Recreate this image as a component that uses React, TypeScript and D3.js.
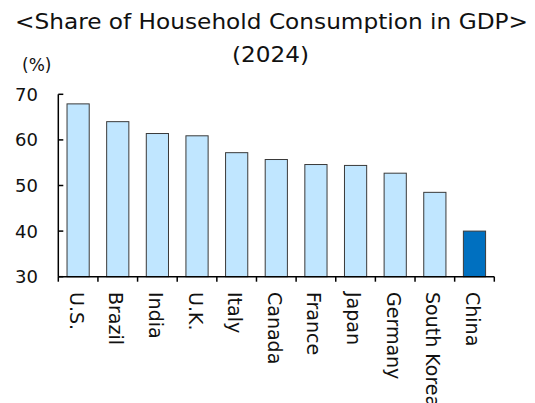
import React from "react";
import * as d3 from "d3";

const categories = ["U.S.", "Brazil", "India", "U.K.", "Italy", "Canada", "France", "Japan", "Germany", "South Korea", "China"];
const values = [67.9, 64.0, 61.4, 60.9, 57.2, 55.7, 54.6, 54.4, 52.7, 48.5, 40.0];
const yTicks = [30, 40, 50, 60, 70];
const highlight = ["China"];
const titleLine1 = "<Share of Household Consumption in GDP>";
const titleLine2 = "(2024)";
const unitLabel = "(%)";

const W = 535;
const H = 403;
const left = 58.3;
const right = 494.3;
const top = 94.3;
const bottom = 276.7;
const FONT = "'DejaVu Sans', Verdana, sans-serif";

export default function App() {
  const x = d3.scaleBand<string>().domain(categories).range([left, right]).padding(0);
  const y = d3.scaleLinear().domain([30, 70]).range([bottom, top]);
  const bw = x.bandwidth() * 0.56;
  const boundaries = d3.range(categories.length + 1).map((i) => left + i * x.step());

  return (
    <svg width={W} height={H} style={{ position: "absolute", left: 0, top: 0, background: "#fff" }} fontFamily={FONT}>
      <text x={15} y={29} fontSize={21} fill="#111" textLength={513} lengthAdjust="spacingAndGlyphs">{titleLine1}</text>
      <text x={232} y={62} fontSize={21} fill="#111" textLength={77} lengthAdjust="spacingAndGlyphs">{titleLine2}</text>
      <text x={22} y={70.5} fontSize={17} fill="#111">{unitLabel}</text>

      {categories.map((c, i) => {
        const cx = (x(c) as number) + x.bandwidth() / 2;
        return (
          <rect
            key={c}
            x={cx - bw / 2}
            y={y(values[i])}
            width={bw}
            height={y(30) - y(values[i])}
            fill={highlight.includes(c) ? "#0070C0" : "#C0E6FF"}
            stroke="#3a3a3a"
            strokeWidth={1}
          />
        );
      })}

      {/* y axis */}
      <line x1={left} x2={left} y1={top} y2={bottom} stroke="#000" strokeWidth={1.5} />
      {yTicks.map((t) => (
        <g key={t}>
          <line x1={left} x2={left + 5} y1={y(t)} y2={y(t)} stroke="#000" strokeWidth={1.5} />
          <text x={38} y={y(t) + 6.5} textAnchor="end" fontSize={18} fill="#111">{t}</text>
        </g>
      ))}

      {/* x axis */}
      <line x1={left} x2={right} y1={bottom} y2={bottom} stroke="#000" strokeWidth={1.5} />
      {boundaries.map((bx, i) => (
        <line key={i} x1={bx} x2={bx} y1={bottom} y2={bottom + 5} stroke="#000" strokeWidth={1.5} />
      ))}
      {categories.map((c) => {
        const cx = (x(c) as number) + x.bandwidth() / 2;
        return (
          <text
            key={c}
            transform={`translate(${cx - 1.5},292) rotate(90)`}
            fontSize={19}
            dominantBaseline="central"
            fill="#111"
          >
            {c}
          </text>
        );
      })}
    </svg>
  );
}
